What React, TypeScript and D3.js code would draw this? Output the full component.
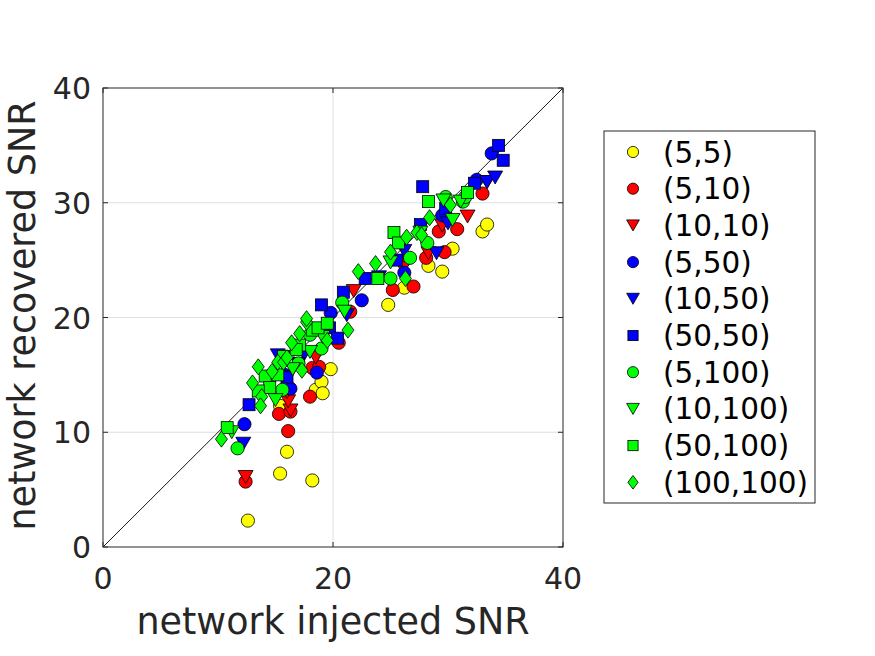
import React from 'react';
import * as d3 from 'd3';

// marker shapes per series
type Shape = 'circle' | 'triangle' | 'square' | 'diamond';

const seriesNames = ['(5,5)', '(5,10)', '(10,10)', '(5,50)', '(10,50)', '(50,50)', '(5,100)', '(10,100)', '(50,100)', '(100,100)'];
const seriesColors = ['#ffff00', '#ff0000', '#ff0000', '#0000ff', '#0000ff', '#0000ff', '#00ff00', '#00ff00', '#00ff00', '#00ff00'];
const seriesShapes: Shape[] = ['circle', 'circle', 'triangle', 'circle', 'triangle', 'square', 'circle', 'triangle', 'square', 'diamond'];

const s5_5 = [[12.6, 2.3], [15.4, 6.4], [16.0, 8.3], [18.2, 5.8], [15.4, 12.3], [18.5, 13.7], [19.0, 14.4], [19.1, 13.4], [19.8, 15.5], [24.8, 21.1], [26.2, 22.6], [28.3, 24.5], [29.5, 24.0], [30.4, 26.0], [33.0, 27.5], [33.4, 28.1]];
const s5_10 = [[12.4, 5.7], [16.1, 10.1], [15.3, 11.6], [16.3, 11.8], [18.0, 13.1], [18.2, 15.6], [18.8, 15.7], [21.5, 20.5], [25.2, 22.4], [27.0, 22.7], [26.2, 25.0], [28.1, 25.2], [29.7, 25.7], [29.2, 27.5], [30.8, 27.7], [33.0, 30.8], [20.5, 17.8]];
const s10_10 = [[12.4, 6.1], [16.3, 11.9], [16.1, 12.7], [16.0, 13.5], [21.8, 22.3], [26.1, 24.3], [28.3, 25.6], [31.7, 28.8], [33.4, 31.8], [29.5, 28.0], [18.5, 16.5]];
const s5_50 = [[12.3, 10.7], [16.3, 13.8], [18.6, 15.2], [19.8, 20.4], [26.2, 23.9], [29.5, 28.9], [32.5, 32.0], [33.8, 34.3], [15.8, 15.0], [22.5, 21.5]];
const s10_50 = [[12.2, 9.0], [15.2, 16.7], [16.1, 14.8], [21.2, 20.2], [19.3, 18.9], [26.2, 25.8], [29.0, 25.6], [30.0, 28.2], [33.4, 31.8], [34.1, 32.2], [17.5, 16.8], [24.0, 23.5]];
const s50_50 = [[12.7, 12.4], [16.0, 14.8], [17.0, 16.0], [19.7, 19.1], [20.4, 18.2], [19.0, 21.1], [20.9, 22.2], [22.8, 23.4], [27.6, 28.1], [27.8, 31.4], [32.3, 31.7], [34.4, 35.0], [34.8, 33.7], [25.5, 25.0], [29.8, 29.5]];
const s5_100 = [[11.7, 8.6], [15.6, 13.7], [19.0, 17.3], [17.0, 16.0], [20.8, 21.3], [25.0, 23.4], [26.7, 25.2], [28.2, 26.5], [29.8, 30.5], [31.3, 30.1], [31.5, 30.5], [18.0, 18.5]];
const s10_100 = [[11.2, 10.0], [15.0, 12.8], [16.5, 15.5], [19.1, 18.3], [18.0, 17.0], [25.0, 24.8], [27.6, 27.4], [29.6, 30.2], [31.1, 30.1], [30.4, 28.5], [21.0, 20.5]];
const s50_100 = [[10.8, 10.4], [14.1, 14.9], [14.5, 13.9], [15.7, 16.6], [17.1, 17.6], [18.2, 18.9], [18.7, 19.1], [19.5, 19.5], [23.9, 23.4], [25.3, 27.4], [25.7, 26.5], [28.3, 30.1], [31.7, 30.9], [16.8, 17.2], [13.5, 13.6], [15.2, 15.0]];
const s100_100 = [[10.3, 9.4], [13.0, 14.3], [13.5, 15.7], [13.8, 13.1], [13.7, 12.3], [15.2, 16.1], [14.7, 15.3], [15.7, 16.1], [16.4, 17.8], [17.1, 18.6], [17.7, 19.6], [17.7, 19.9], [17.3, 15.4], [21.3, 18.9], [22.2, 24.0], [23.7, 24.7], [25.0, 25.7], [26.3, 23.4], [26.4, 27.0], [27.3, 27.4], [27.7, 27.2], [28.4, 28.7], [30.2, 29.8], [19.5, 18.0], [16.0, 16.5]];

const seriesData = [s5_5, s5_10, s10_10, s5_50, s10_50, s50_50, s5_100, s10_100, s50_100, s100_100];

const xTicks = [0, 20, 40];
const yTicks = [0, 10, 20, 30, 40];
const xGrid = [20];
const yGrid = [10, 20, 30];

const textColor = '#262626';
const font = 'DejaVu Sans, sans-serif';

const Marker = ({shape, x, y, color, scale = 1}: {shape: Shape, x: number, y: number, color: string, scale?: number}) => {
  const common = {fill: color, stroke: '#000', strokeWidth: 0.8};
  if (shape === 'circle') return <circle cx={x} cy={y} r={6.6 * scale} {...common}/>;
  if (shape === 'square') {
    const h = 6 * scale;
    return <rect x={x - h} y={y - h} width={2 * h} height={2 * h} {...common}/>;
  }
  if (shape === 'triangle') {
    const w = 7.5 * scale, h = 6.5 * scale;
    return <path d={`M${x - w},${y - h}L${x + w},${y - h}L${x},${y + h}Z`} {...common}/>;
  }
  const w = 6 * scale, h = 8 * scale;
  return <path d={`M${x},${y - h}L${x + w},${y}L${x},${y + h}L${x - w},${y}Z`} {...common}/>;
};

export default function App() {
  const width = 875, height = 656;
  const left = 103, top = 88, right = 563, bottom = 547;
  const x = d3.scaleLinear().domain([0, 40]).range([left, right]);
  const y = d3.scaleLinear().domain([0, 40]).range([bottom, top]);

  const legendX = 604, legendY = 131, legendW = 211, legendH = 372;
  const rowStep = 36.7;

  return (
    <svg width={width} height={height} style={{position: 'absolute', left: 0, top: 0, background: '#fff'}}
         fontFamily={font}>
      <rect x={0} y={0} width={width} height={height} fill="#fff"/>
      <rect x={left} y={top} width={right - left} height={bottom - top} fill="#fff"/>
      {/* grid */}
      {xGrid.map(v => <line key={'gx' + v} x1={x(v)} x2={x(v)} y1={top} y2={bottom} stroke="#dfdfdf" strokeWidth={1}/>)}
      {yGrid.map(v => <line key={'gy' + v} x1={left} x2={right} y1={y(v)} y2={y(v)} stroke="#dfdfdf" strokeWidth={1}/>)}
      {/* identity line */}
      <line x1={x(0)} y1={y(0)} x2={x(40)} y2={y(40)} stroke="#000" strokeWidth={0.9}/>
      {/* points */}
      {seriesData.map((pts, si) => pts.map((p, i) => (
        <Marker key={`${si}-${i}`} shape={seriesShapes[si]} x={x(p[0])} y={y(p[1])} color={seriesColors[si]}/>
      )))}
      {/* axes box */}
      <rect x={left} y={top} width={right - left} height={bottom - top} fill="none" stroke="#262626" strokeWidth={1}/>
      {xTicks.map(v => (
        <g key={'xt' + v}>
          <line x1={x(v)} x2={x(v)} y1={bottom} y2={bottom - 5} stroke="#262626"/>
          <line x1={x(v)} x2={x(v)} y1={top} y2={top + 5} stroke="#262626"/>
          <text x={x(v)} y={589} textAnchor="middle" fontSize={30} fill={textColor}>{v}</text>
        </g>
      ))}
      {yTicks.map(v => (
        <g key={'yt' + v}>
          <line x1={left} x2={left + 5} y1={y(v)} y2={y(v)} stroke="#262626"/>
          <line x1={right} x2={right - 5} y1={y(v)} y2={y(v)} stroke="#262626"/>
          <text x={left - 12} y={y(v) + 11} textAnchor="end" fontSize={30} fill={textColor}>{v}</text>
        </g>
      ))}
      <text x={(left + right) / 2} y={634} textAnchor="middle" fontSize={36.5} fill={textColor}>network injected SNR</text>
      <text transform={`translate(35, ${(top + bottom) / 2 - 2}) rotate(-90)`} textAnchor="middle" fontSize={36.5} fill={textColor}>network recovered SNR</text>
      {/* legend */}
      <rect x={legendX} y={legendY} width={legendW} height={legendH} fill="#fff" stroke="#262626" strokeWidth={1}/>
      {seriesNames.map((name, i) => {
        const cy = legendY + 21 + i * rowStep;
        return (
          <g key={name}>
            <Marker shape={seriesShapes[i]} x={legendX + 29} y={cy} color={seriesColors[i]} scale={0.85}/>
            <text x={legendX + 59} y={cy + 10.5} fontSize={29.5} fill="#000">{name}</text>
          </g>
        );
      })}
    </svg>
  );
}
